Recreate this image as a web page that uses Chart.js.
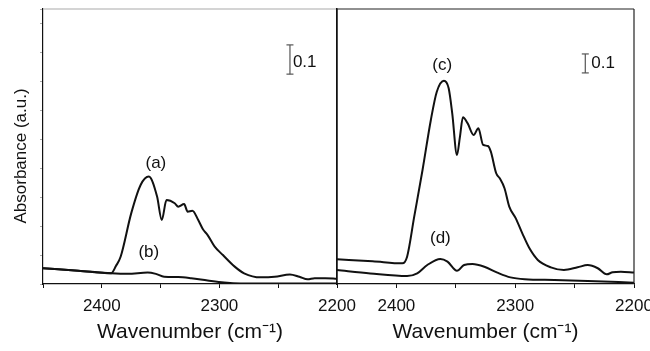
<!DOCTYPE html>
<html>
<head>
<meta charset="utf-8">
<script src="https://cdn.jsdelivr.net/npm/chart.js@4"></script>
<style>
  body { margin: 0; background: #fff; }
  #wrap { position: relative; width: 650px; height: 351px; overflow: hidden; }
  canvas { position: absolute; top: 0; }
  #left { left: 0; }
  #right { left: 320px; }
</style>
</head>
<body>
<div id="wrap">
  <canvas id="left" width="380" height="351"></canvas>
  <canvas id="right" width="330" height="351"></canvas>
</div>
<script>
// spectrum (a) and (b), left panel
const aWave = [2450, 2420, 2392, 2388, 2384, 2375, 2367, 2360, 2353, 2349, 2345, 2338, 2335, 2330, 2327, 2323, 2318, 2314, 2310, 2304, 2297, 2287, 2279, 2265, 2253, 2240, 2232, 2225, 2219, 2210, 2200];
const aAbs  = [0.054, 0.046, 0.037, 0.062, 0.094, 0.244, 0.342, 0.371, 0.302, 0.221, 0.290, 0.279, 0.267, 0.276, 0.250, 0.253, 0.221, 0.189, 0.169, 0.129, 0.100, 0.060, 0.037, 0.023, 0.025, 0.033, 0.025, 0.016, 0.020, 0.020, 0.018];
const bWave = [2450, 2420, 2392, 2378, 2361, 2354, 2347, 2335, 2324, 2310, 2296, 2282, 2250, 2200];
const bAbs  = [0.054, 0.046, 0.037, 0.035, 0.040, 0.035, 0.025, 0.024, 0.020, 0.012, 0.005, 0.002, 0.002, 0.002];

// spectrum (c) and (d), right panel
const cWave = [2450, 2420, 2395, 2391, 2385, 2378, 2371, 2366, 2360, 2356, 2353, 2349, 2346.5, 2344, 2340, 2335, 2331, 2327, 2323, 2320.5, 2316, 2313, 2309, 2305, 2299.5, 2294, 2288, 2281, 2270, 2259, 2247.5, 2239, 2230.5, 2223, 2218, 2211, 2200];
const cAbs  = [0.130, 0.120, 0.109, 0.144, 0.355, 0.601, 0.865, 1.014, 1.072, 1.032, 0.900, 0.680, 0.777, 0.879, 0.847, 0.786, 0.821, 0.733, 0.728, 0.698, 0.584, 0.557, 0.505, 0.408, 0.346, 0.267, 0.188, 0.127, 0.088, 0.074, 0.088, 0.100, 0.083, 0.051, 0.062, 0.065, 0.060];
const dWave = [2450, 2422, 2391, 2382.5, 2374, 2363, 2357, 2349, 2343, 2336, 2326, 2315, 2304, 2292, 2267, 2239, 2200];
const dAbs  = [0.074, 0.056, 0.042, 0.056, 0.100, 0.132, 0.118, 0.070, 0.100, 0.105, 0.091, 0.060, 0.035, 0.025, 0.021, 0.016, 0.007];

// 0.1 scale bars
const leftBarWave = [2240, 2240];
const leftBarAbs  = [0.725, 0.826];
const rightBarWave = [2241, 2241];
const rightBarAbs  = [1.113, 1.213];

// text labels
const leftNoteText = ['(a)', '(b)', '0.1'];
const leftNoteWave = [2354, 2360, 2237.5];
const leftNoteAbs  = [0.418, 0.111, 0.767];
const rightNoteText = ['(c)', '(d)', '0.1'];
const rightNoteWave = [2361.5, 2363, 2236];
const rightNoteAbs  = [1.155, 0.243, 1.165];

const FONT = '"Liberation Sans", Arial, Helvetica, sans-serif';
Chart.defaults.font.family = FONT;
Chart.defaults.color = '#111';

function pts(xs, ys) {
  return xs.map((x, i) => ({x: x, y: ys[i]}));
}

function curve(xs, ys) {
  return {
    data: pts(xs, ys),
    borderColor: '#111',
    borderWidth: 2,
    pointRadius: 0,
    cubicInterpolationMode: 'monotone'
  };
}

function bar(xs, ys) {
  return {
    data: pts(xs, ys),
    borderColor: '#555',
    borderWidth: 1.2,
    pointStyle: 'line',
    pointRadius: 3.5,
    pointBorderColor: '#555',
    pointBorderWidth: 1.2
  };
}

const notePlugin = {
  id: 'notes',
  afterDatasetsDraw(chart, args, opts) {
    const ctx = chart.ctx;
    const x = chart.scales.x, y = chart.scales.y;
    ctx.save();
    ctx.font = '17px ' + FONT;
    ctx.fillStyle = '#111';
    ctx.textBaseline = 'middle';
    opts.text.forEach((t, i) => {
      ctx.textAlign = t === '0.1' ? 'left' : 'center';
      ctx.fillText(t, x.getPixelForValue(opts.wave[i]), y.getPixelForValue(opts.abs[i]));
    });
    ctx.restore();
  }
};

// top and right edges of the plot box
const framePlugin = {
  id: 'frame',
  afterDraw(chart, args, opts) {
    const {ctx, chartArea: a} = chart;
    ctx.save();
    ctx.lineWidth = 1.2;
    ctx.strokeStyle = opts.top;
    ctx.beginPath();
    ctx.moveTo(a.left, a.top);
    ctx.lineTo(a.right, a.top);
    ctx.stroke();
    ctx.strokeStyle = opts.right;
    ctx.beginPath();
    ctx.moveTo(a.right, a.top);
    ctx.lineTo(a.right, a.bottom);
    ctx.stroke();
    ctx.restore();
  }
};

function xScale() {
  return {
    type: 'linear',
    reverse: true,
    min: 2200,
    max: 2450,
    border: {color: '#111', width: 1.2},
    grid: {drawOnChartArea: false, drawTicks: true, tickLength: 4, color: '#111'},
    ticks: {
      stepSize: 50,
      padding: 8,
      maxRotation: 0,
      autoSkip: false,
      font: {size: 17},
      color: '#111',
      callback: v => (v % 100 === 0 ? v : '')
    },
    title: {
      display: true,
      text: 'Wavenumber (cm⁻¹)',
      font: {size: 21},
      color: '#111',
      padding: {top: 0, bottom: 6}
    },
    afterFit: s => { s.height = 67; s.paddingLeft = 0; s.paddingRight = 0; }
  };
}

new Chart(document.getElementById('left'), {
  type: 'line',
  data: {
    datasets: [curve(aWave, aAbs), curve(bWave, bAbs), bar(leftBarWave, leftBarAbs)]
  },
  options: {
    responsive: false,
    animation: false,
    layout: {padding: {left: 0, right: 43, top: 9, bottom: 0}},
    scales: {
      x: xScale(),
      y: {
        min: 0,
        max: 0.95,
        border: {color: '#111', width: 1.2},
        grid: {drawOnChartArea: false, tickLength: 3, color: '#aaa'},
        ticks: {display: false, stepSize: 0.1},
        title: {
          display: true,
          text: 'Absorbance (a.u.)    ',
          font: {size: 17},
          color: '#111',
          padding: {top: 11, bottom: 0}
        },
        afterFit: s => { s.width = 43; }
      }
    },
    plugins: {
      legend: {display: false},
      tooltip: {enabled: false},
      notes: {text: leftNoteText, wave: leftNoteWave, abs: leftNoteAbs},
      frame: {top: '#aaa', right: '#333'}
    }
  },
  plugins: [notePlugin, framePlugin]
});

new Chart(document.getElementById('right'), {
  type: 'line',
  data: {
    datasets: [curve(cWave, cAbs), curve(dWave, dAbs), bar(rightBarWave, rightBarAbs)]
  },
  options: {
    responsive: false,
    animation: false,
    layout: {padding: {left: 17, right: 16, top: 9, bottom: 0}},
    scales: {
      x: xScale(),
      y: {
        min: 0,
        max: 1.45,
        border: {color: '#111', width: 1.5},
        grid: {drawOnChartArea: false, drawTicks: false},
        ticks: {display: false},
        afterFit: s => { s.width = 0; }
      }
    },
    plugins: {
      legend: {display: false},
      tooltip: {enabled: false},
      notes: {text: rightNoteText, wave: rightNoteWave, abs: rightNoteAbs},
      frame: {top: '#222', right: '#222'}
    }
  },
  plugins: [notePlugin, framePlugin]
});
</script>
</body>
</html>
